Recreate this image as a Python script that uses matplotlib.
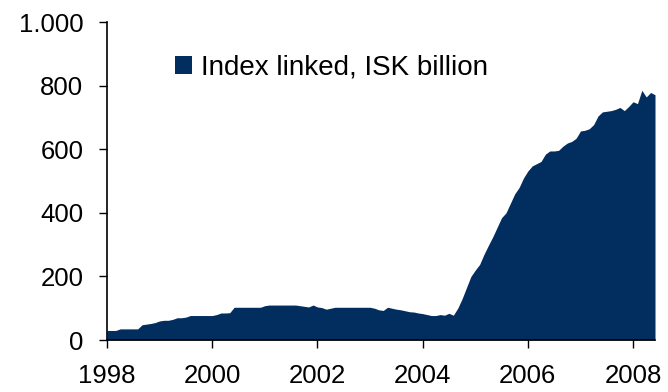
import matplotlib
matplotlib.use("Agg")
import matplotlib.pyplot as plt
from matplotlib.patches import Patch
from matplotlib.ticker import FuncFormatter
import numpy as np

# Monthly data, Jan 1998 - Jun 2008 (ISK billion)
start_year = 1998
values = [
    # 1998
    30, 30, 30, 35, 35, 35, 35, 35, 48, 50, 52, 55,
    # 1999
    60, 62, 62, 65, 70, 70, 72, 77, 77, 77, 77, 77,
    # 2000
    77, 80, 85, 85, 86, 103, 103, 103, 103, 103, 103, 103,
    # 2001
    108, 110, 110, 110, 110, 110, 110, 110, 108, 106, 104, 110,
    # 2002
    104, 102, 97, 100, 103, 103, 103, 103, 103, 103, 103, 103,
    # 2003
    103, 100, 95, 93, 103, 100, 97, 95, 92, 89, 88, 85,
    # 2004
    83, 80, 77, 77, 80, 78, 84, 78, 100, 130, 165, 200,
    # 2005
    220, 238, 270, 298, 325, 355, 385, 400, 430, 460, 480, 510,
    # 2006
    532, 548, 555, 562, 585, 595, 595, 597, 610, 620, 625, 635,
    # 2007
    658, 660, 665, 678, 705, 718, 720, 722, 726, 732, 722, 735,
    # 2008
    750, 744, 786, 765, 779, 772,
]
series_label = "Index linked, ISK billion"
x_ticks = [1998, 2000, 2002, 2004, 2006, 2008]
y_ticks = [0, 200, 400, 600, 800, 1000]

x = start_year + np.arange(len(values)) / 12.0

color = "#022E5F"
plt.rcParams["font.family"] = ["Liberation Sans", "DejaVu Sans"]

fig = plt.figure(figsize=(6.68, 3.92), dpi=100)
ax = fig.add_axes([107 / 668, 1 - 340 / 392, (655 - 107) / 668, (340 - 22.3) / 392])

ax.fill_between(x, values, 0, color=color, linewidth=0)

ax.set_xlim(x[0], x[-1])
ax.set_ylim(0, 1000)
ax.set_xticks(x_ticks)
ax.set_yticks(y_ticks)
ax.yaxis.set_major_formatter(FuncFormatter(lambda v, p: f"{int(v):,}".replace(",", ".")))

for s in ["top", "right"]:
    ax.spines[s].set_visible(False)
for s in ["left", "bottom"]:
    ax.spines[s].set_color("black")
    ax.spines[s].set_linewidth(1.2)

ax.tick_params(axis="y", direction="out", length=6, width=1, pad=11, labelsize=18.5, colors="black")
ax.tick_params(axis="x", direction="out", length=6, width=1, pad=11, labelsize=18.5, colors="black")

handle = Patch(facecolor=color, edgecolor="none")
fig.legend([handle], [series_label], loc="center left",
           bbox_to_anchor=(175 / 668, 1 - 68 / 392), frameon=False,
           fontsize=20, handlelength=0.6, handleheight=0.6,
           handletextpad=0.35, borderpad=0, borderaxespad=0)

fig.savefig("out.png", dpi=100)
